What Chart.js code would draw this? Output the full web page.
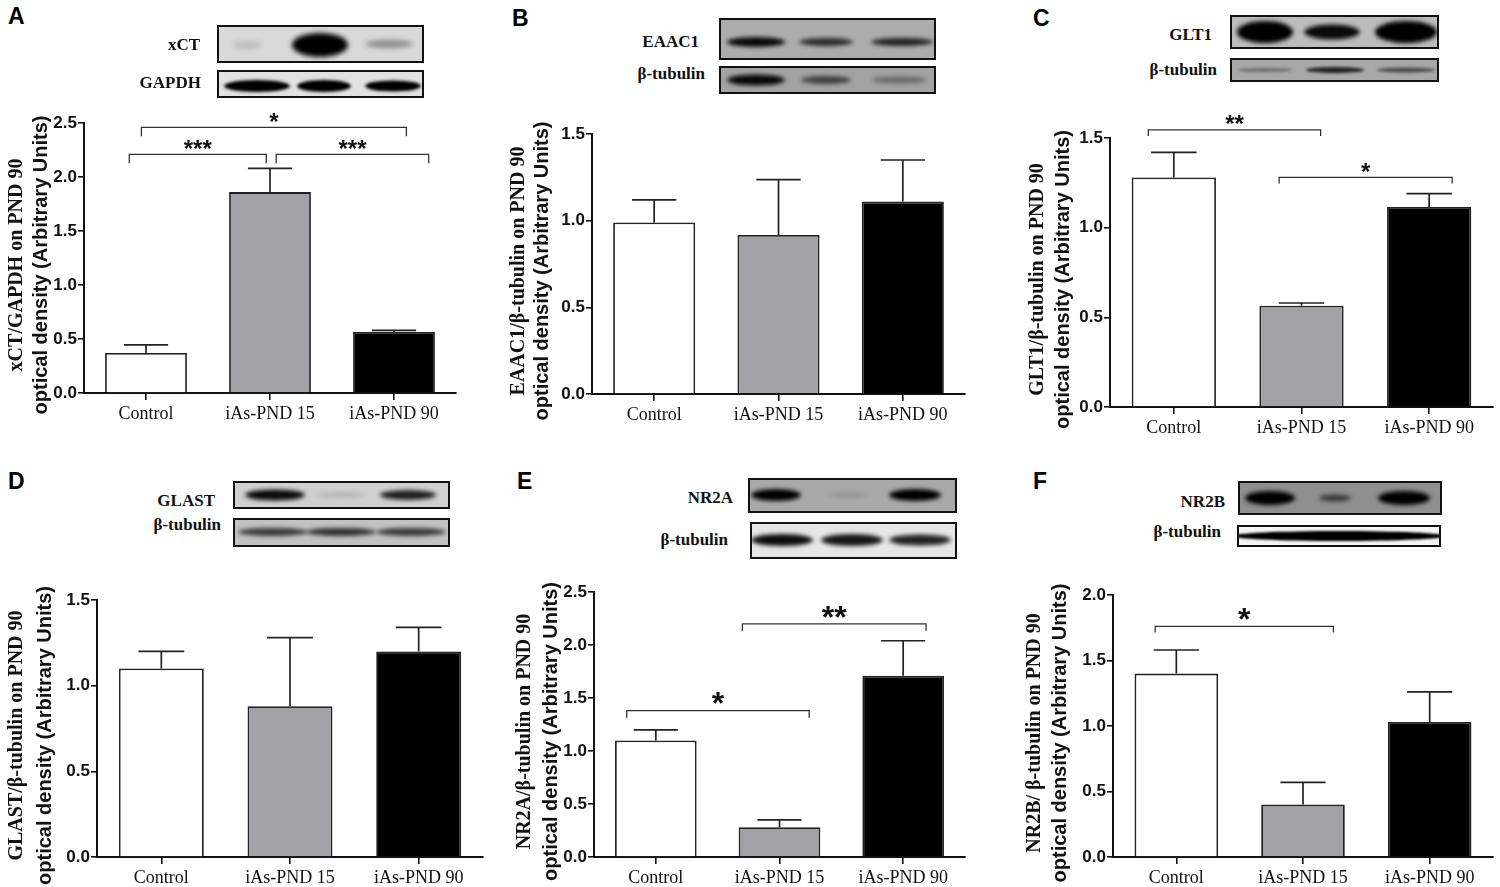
<!DOCTYPE html>
<html>
<head>
<meta charset="utf-8">
<script src="https://cdn.jsdelivr.net/npm/chart.js@4.4.1/dist/chart.umd.min.js"></script>
<style>
  html, body { margin:0; padding:0; background:#fff; }
  #fig { position:relative; width:1500px; height:887px; overflow:hidden; background:#fff; }
  canvas { position:absolute; }
  .lbl { position:absolute; font:bold 17px "Liberation Serif", serif; line-height:20px; color:#111; white-space:nowrap; }
  .pl { position:absolute; font:bold 23px "Liberation Sans", sans-serif; line-height:23px; color:#000; }
</style>
</head>
<body>
<div id="fig"></div>
<script>
// groups on the x axis, same for every panel
const groups = ['Control', 'iAs-PND 15', 'iAs-PND 90']
const barColors = ['#ffffff', '#a2a2a6', '#000000']

// values (mean and SEM)
const meanA = [0.37, 1.86, 0.565]
const semA  = [0.075, 0.22, 0.015]
const meanB = [0.99, 0.917, 1.11]
const semB  = [0.13, 0.32, 0.24]
const meanC = [1.28, 0.565, 1.115]
const semC  = [0.14, 0.015, 0.075]
const meanD = [1.10, 0.88, 1.20]
const semD  = [0.10, 0.40, 0.14]
const meanE = [1.10, 0.28, 1.71]
const semE  = [0.10, 0.07, 0.33]
const meanF = [1.40, 0.40, 1.03]
const semF  = [0.18, 0.17, 0.23]

// y axis top value per panel
const yMax = { A: 2.5, B: 1.5, C: 1.5, D: 1.5, E: 2.5, F: 2.0 }

// significance brackets: [from group, to group, height in data units, label]
const sigA = [[0, 1, 2.21, '***'], [1, 2, 2.21, '***'], [0, 2, 2.46, '*']]
const sigC = [[0, 1, 1.545, '**'], [1, 2, 1.28, '*']]
const sigE = [[0, 1, 1.38, '*'], [1, 2, 2.2, '**']]
const sigF = [[0, 1, 1.76, '*']]

// y axis titles
const titleA = ['xCT/GAPDH on PND 90', 'optical density (Arbitrary Units)']
const titleB = ['EAAC1/\u03b2-tubulin on PND 90', 'optical density (Arbitrary Units)']
const titleC = ['GLT1/\u03b2-tubulin on PND 90', 'optical density (Arbitrary Units)']
const titleD = ['GLAST/\u03b2-tubulin on PND 90', 'optical density (Arbitrary Units)']
const titleE = ['NR2A/\u03b2-tubulin on PND 90', 'optical density (Arbitrary Units)']
const titleF = ['NR2B/ \u03b2-tubulin on PND 90', 'optical density (Arbitrary Units)']

// blot names
const blotA = ['xCT', 'GAPDH']
const blotB = ['EAAC1', '\u03b2-tubulin']
const blotC = ['GLT1', '\u03b2-tubulin']
const blotD = ['GLAST', '\u03b2-tubulin']
const blotE = ['NR2A', '\u03b2-tubulin']
const blotF = ['NR2B', '\u03b2-tubulin']

const fig = document.getElementById('fig')

// ---- layout (canvas box, plot box, title offsets, bracket offsets) ----
const panels = [
  { key:'A', mean:meanA, sem:semA, sig:sigA, title:titleA,
    sigOff:[[-0.135,-0.03],[0.05,0.28],[-0.037,0.1]], leg:9, star:24,
    cv:[0,95,480,340], plot:[84,456,123,393], tOff:[-67,-43] },
  { key:'B', mean:meanB, sem:semB, sig:[], title:titleB, sigOff:[], leg:7, star:24,
    cv:[490,95,490,340], plot:[592,965,134,394], tOff:[-73,-50] },
  { key:'C', mean:meanC, sem:semC, sig:sigC, title:titleC,
    sigOff:[[-0.2,0.15],[-0.175,0.18]], leg:6, star:24,
    cv:[1000,95,500,345], plot:[1110,1493,138,407], tOff:[-72,-47] },
  { key:'D', mean:meanD, sem:semD, sig:[], title:titleD, sigOff:[], leg:7, star:24,
    cv:[0,560,495,327], plot:[97,483,600,857], tOff:[-80,-52] },
  { key:'E', mean:meanE, sem:semE, sig:sigE, title:titleE,
    sigOff:[[-0.235,0.24],[-0.3,0.185]], leg:7, star:32,
    cv:[500,560,490,327], plot:[594,965,592,857], tOff:[-69,-43] },
  { key:'F', mean:meanF, sem:semF, sig:sigF, title:titleF,
    sigOff:[[-0.167,0.24]], leg:6, star:32,
    cv:[1000,560,500,327], plot:[1113,1493,595,857], tOff:[-78,-53] }
]

function makeChart(p)
{
  let [cx, cy, cw, ch] = p.cv
  let [pl, pr, pt, pb] = p.plot
  let cnv = document.createElement('canvas')
  cnv.width = cw; cnv.height = ch
  cnv.style.left = cx + 'px'; cnv.style.top = cy + 'px'
  cnv.style.width = cw + 'px'; cnv.style.height = ch + 'px'
  fig.appendChild(cnv)

  // error bars (upper only, like the original)
  let errPlugin = {
    id: 'err' + p.key,
    afterDatasetsDraw(chart) {
      let ctx = chart.ctx, ys = chart.scales.y
      ctx.save()
      ctx.strokeStyle = '#222'
      ctx.lineWidth = 1.7
      chart.getDatasetMeta(0).data.forEach((el, i) => {
        let top = ys.getPixelForValue(p.mean[i] + p.sem[i])
        let half = el.width * 0.27
        ctx.beginPath()
        ctx.moveTo(el.x, el.y)
        ctx.lineTo(el.x, top)
        ctx.moveTo(el.x - half, top)
        ctx.lineTo(el.x + half, top)
        ctx.stroke()
      })
      ctx.restore()
    }
  }

  // significance brackets
  let sigPlugin = {
    id: 'sig' + p.key,
    afterDraw(chart) {
      let ctx = chart.ctx, xs = chart.scales.x, ys = chart.scales.y
      let cat = xs.width / groups.length
      ctx.save()
      p.sig.forEach((s, k) => {
        let x1 = xs.getPixelForValue(s[0]) + p.sigOff[k][0] * cat
        let x2 = xs.getPixelForValue(s[1]) + p.sigOff[k][1] * cat
        let y = ys.getPixelForValue(s[2])
        ctx.strokeStyle = '#333'
        ctx.lineWidth = 1.3
        ctx.beginPath()
        ctx.moveTo(x1, y + p.leg); ctx.lineTo(x1, y); ctx.lineTo(x2, y); ctx.lineTo(x2, y + p.leg)
        ctx.stroke()
        ctx.fillStyle = '#111'
        ctx.font = 'bold ' + p.star + 'px "Liberation Sans"'
        ctx.textAlign = 'center'
        ctx.textBaseline = 'alphabetic'
        let starMid = y - (0.4 * p.star + 2)
        ctx.fillText(s[3], (x1 + x2) / 2, starMid + 0.58 * p.star)
      })
      ctx.restore()
    }
  }

  // two-line rotated y title, serif first line, sans second line
  let titlePlugin = {
    id: 'yt' + p.key,
    afterDraw(chart) {
      let ctx = chart.ctx, a = chart.chartArea
      let mid = (a.top + a.bottom) / 2 + 7
      let fonts = ['bold 20px "Liberation Serif"', 'bold 20px "Liberation Sans"']
      ctx.save()
      ctx.fillStyle = '#111'
      ctx.textAlign = 'center'
      ctx.textBaseline = 'middle'
      p.title.forEach((t, i) => {
        ctx.save()
        ctx.translate(a.left + p.tOff[i], mid)
        ctx.rotate(-Math.PI / 2)
        ctx.font = fonts[i]
        ctx.fillText(t, 0, 0)
        ctx.restore()
      })
      ctx.restore()
    }
  }

  return new Chart(cnv, {
    type: 'bar',
    data: {
      labels: groups,
      datasets: [{
        data: p.mean,
        backgroundColor: barColors,
        borderColor: '#222',
        borderWidth: 1.8,
        barPercentage: 0.66,
        categoryPercentage: 1
      }]
    },
    options: {
      responsive: false,
      animation: false,
      devicePixelRatio: 1,
      layout: { padding: { left: 0, top: pt - cy, right: cx + cw - pr, bottom: 0 } },
      plugins: { legend: { display: false }, tooltip: { enabled: false } },
      scales: {
        x: {
          grid: { display: true, drawOnChartArea: false, offset: false, tickLength: 7, color: '#111', lineWidth: 1.6 },
          border: { display: true, color: '#111', width: 2 },
          ticks: { color: '#111', font: { family: 'Liberation Serif', size: 18 }, padding: 3, maxRotation: 0, autoSkip: false },
          afterFit: s => { s.height = cy + ch - pb }
        },
        y: {
          min: 0,
          max: yMax[p.key],
          grid: { display: true, drawOnChartArea: false, tickLength: 6, color: '#111', lineWidth: 1.6 },
          border: { display: true, color: '#111', width: 2 },
          ticks: { stepSize: 0.5, color: '#111', font: { family: 'Liberation Sans', weight: 'bold', size: 17 }, padding: 1,
                   callback: v => Number(v).toFixed(1) },
          afterFit: s => { s.width = pl - cx }
        }
      }
    },
    plugins: [errPlugin, sigPlugin, titlePlugin]
  })
}

panels.forEach(makeChart)

// ---- western blot strips (pictures, not data) ----
// box: [x, y, w, h], bg grey, bands: [cx, width, cy, height, darkness]
const blots = [
  { box:[217,25,207,38], bg:'#d9d9d9', blur:2.5, bands:[[30,30,20,8,0.12],[103,56,20,24,1],[172,48,19,8,0.35]] },
  { box:[217,70,207,28], bg:'#e2e2e2', blur:1.5, bands:[[40,66,16,12,1],[107,54,16,12,1],[176,56,16,11,1]] },
  { box:[719,18,217,42], bg:'#acacac', blur:2, bands:[[37,58,24,10,0.95],[107,54,24,8,0.75],[183,62,24,8,0.8]] },
  { box:[719,66,217,28], bg:'#a2a2a2', blur:2, bands:[[37,58,14,11,0.95],[107,50,14,8,0.6],[180,55,14,7,0.35]] },
  { box:[1230,15,209,34], bg:'#bcbcbc', blur:2, bands:[[35,56,17,22,1],[102,56,17,15,0.95],[176,62,17,22,1]] },
  { box:[1230,58,209,24], bg:'#a8a8a8', blur:1.5, bands:[[35,55,12,4,0.35],[105,58,12,6,0.8],[176,58,12,5,0.55]] },
  { box:[233,481,217,28], bg:'#d0d0d0', blur:2, bands:[[42,60,14,11,0.95],[108,50,14,6,0.12],[175,56,14,10,0.85]] },
  { box:[233,518,217,29], bg:'#c2c2c2', blur:2, bands:[[40,70,14,8,0.7],[108,70,14,8,0.75],[178,70,14,8,0.7]] },
  { box:[748,478,209,35], bg:'#a9a9a9', blur:2, bands:[[28,50,17,12,1],[100,40,17,6,0.12],[167,52,17,12,1]] },
  { box:[750,522,207,37], bg:'#e6e6e6', blur:2, bands:[[32,62,18,12,0.95],[102,62,18,12,0.9],[170,62,18,11,0.85]] },
  { box:[1238,481,204,34], bg:'#8f8f8f', blur:2, bands:[[32,50,17,14,1],[97,32,17,7,0.6],[166,52,17,14,1]] },
  { box:[1237,525,204,22], bg:'#f4f4f4', blur:1, bands:[[102,212,11,10,1]] }
]

blots.forEach(b => {
  let [x, y, w, h] = b.box
  let c = document.createElement('canvas')
  c.width = w; c.height = h
  c.style.left = x + 'px'; c.style.top = y + 'px'
  c.style.width = w + 'px'; c.style.height = h + 'px'
  fig.appendChild(c)
  let ctx = c.getContext('2d')
  ctx.fillStyle = b.bg
  ctx.fillRect(0, 0, w, h)
  ctx.filter = 'blur(' + b.blur + 'px)'
  b.bands.forEach(d => {
    ctx.fillStyle = 'rgba(0,0,0,' + d[4] + ')'
    ctx.beginPath()
    ctx.ellipse(d[0], d[2], d[1] / 2, d[3] / 2, 0, 0, Math.PI * 2)
    ctx.fill()
  })
  ctx.filter = 'none'
  ctx.strokeStyle = '#111'
  ctx.lineWidth = 2
  ctx.strokeRect(1, 1, w - 2, h - 2)
})

// blot names: [text, right edge x, centre y]
const blotLabels = [
  [blotA[0], 200, 46], [blotA[1], 201, 84],
  [blotB[0], 699, 43], [blotB[1], 705, 75],
  [blotC[0], 1212, 36], [blotC[1], 1217, 71],
  [blotD[0], 215, 502], [blotD[1], 221, 526],
  [blotE[0], 733, 499], [blotE[1], 728, 541],
  [blotF[0], 1225, 503], [blotF[1], 1221, 533]
]
blotLabels.forEach(l => {
  let d = document.createElement('div')
  d.className = 'lbl'
  d.textContent = l[0]
  d.style.right = (1500 - l[1]) + 'px'
  d.style.top = (l[2] - 11) + 'px'
  fig.appendChild(d)
})

// panel letters
const letters = [['A', 8, 5], ['B', 512, 7], ['C', 1033, 7], ['D', 8, 470], ['E', 517, 470], ['F', 1033, 470]]
letters.forEach(l => {
  let d = document.createElement('div')
  d.className = 'pl'
  d.textContent = l[0]
  d.style.left = l[1] + 'px'
  d.style.top = l[2] + 'px'
  fig.appendChild(d)
})
</script>
</body>
</html>
